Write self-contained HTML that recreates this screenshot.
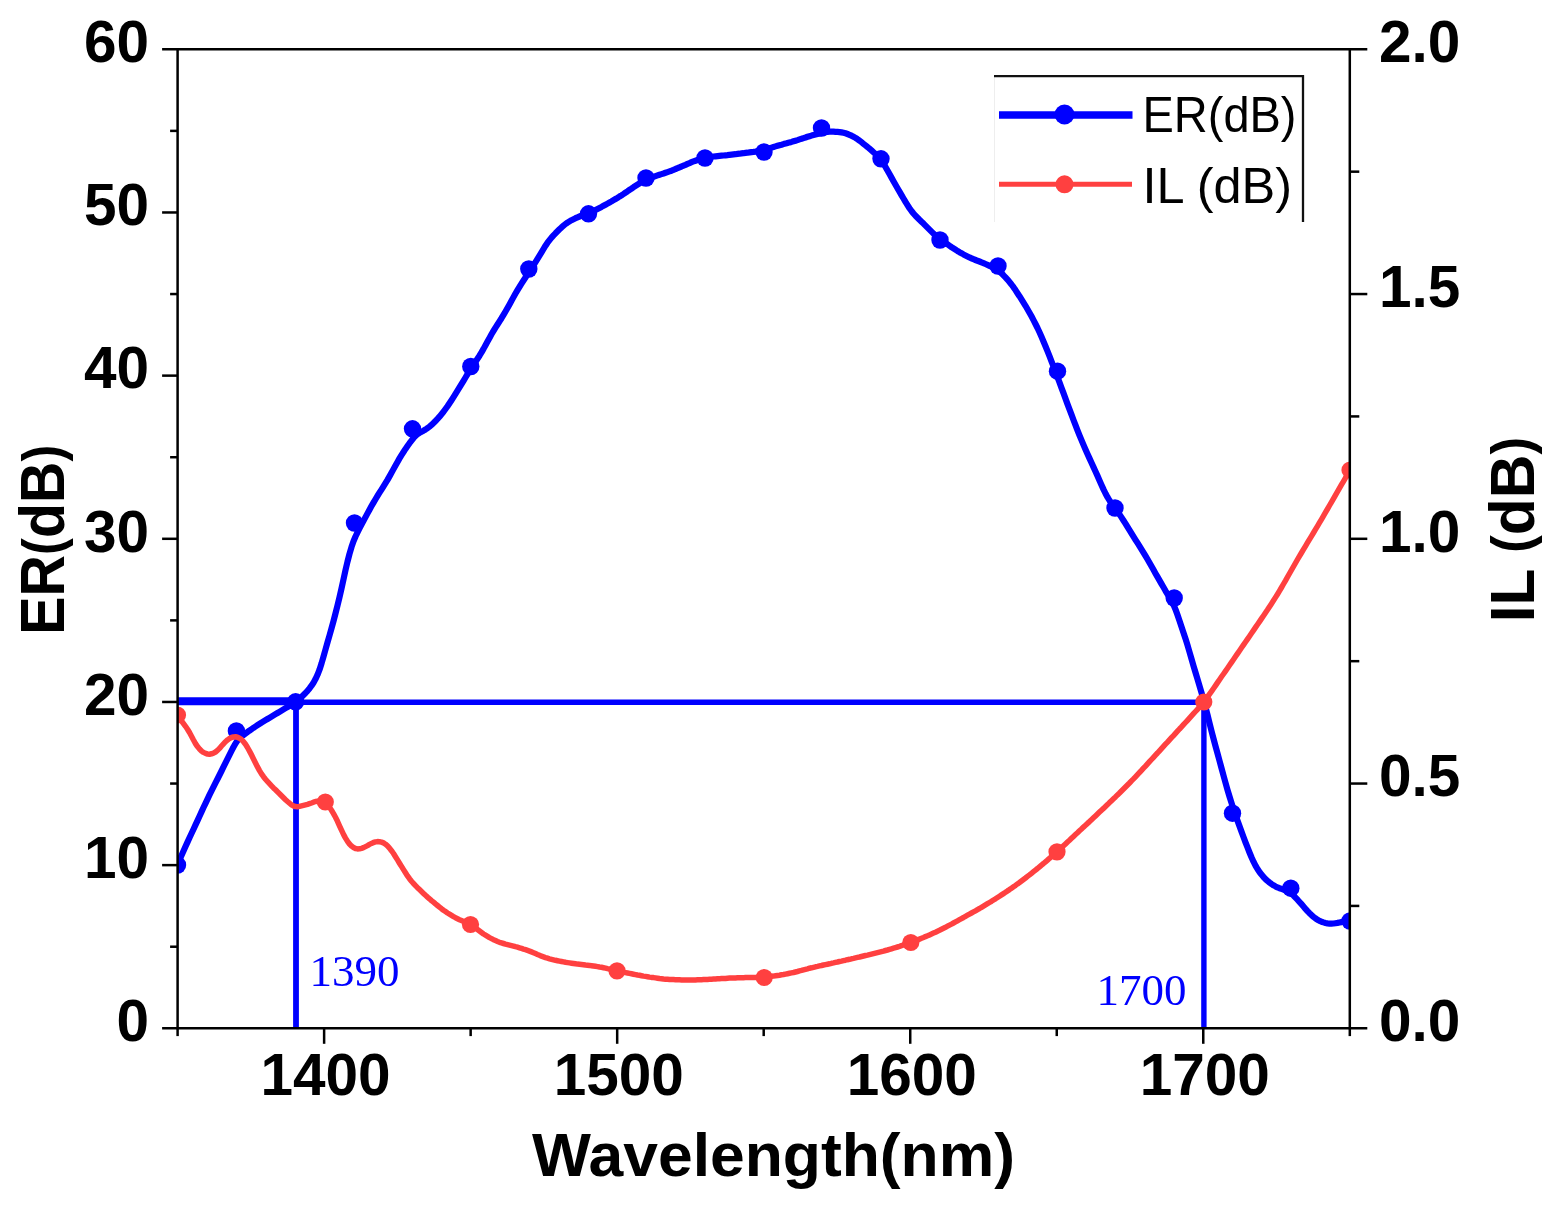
<!DOCTYPE html>
<html lang="en"><head><meta charset="utf-8"><title>ER and IL versus Wavelength</title>
<style>
html,body{margin:0;padding:0;background:#fff;}
body{width:1566px;height:1210px;overflow:hidden;}
svg{display:block;filter:blur(0.55px);}
text{font-family:"Liberation Sans",sans-serif;fill:#000;}
.b{font-weight:bold;}
.ann{font-family:"Liberation Serif",serif;fill:#0000ff;}
</style></head><body>
<svg width="1566" height="1210" viewBox="0 0 1566 1210">
<rect width="1566" height="1210" fill="#fff"/>
<defs><clipPath id="plot"><rect x="177.6" y="29.299999999999997" width="1172.2" height="999.0"/></clipPath></defs>
<g clip-path="url(#plot)">
<line x1="177.6" y1="702.3" x2="1203.3" y2="702.3" stroke="#0000ff" stroke-width="5.4"/>
<line x1="177.6" y1="701.2" x2="294.8" y2="701.2" stroke="#0000ff" stroke-width="8"/>
<line x1="296.0" y1="702" x2="296.0" y2="1028.3" stroke="#0000ff" stroke-width="5.8"/>
<line x1="1203.9" y1="702" x2="1203.9" y2="1028.3" stroke="#0000ff" stroke-width="5.4"/>
<path d="M177.5,865.0 L179.5,859.8 L181.5,855.5 L183.5,851.0 L185.5,846.5 L187.5,842.1 L189.5,837.7 L191.5,833.5 L193.5,829.2 L195.5,824.9 L197.5,820.6 L199.5,816.2 L201.5,811.9 L203.5,807.5 L205.5,803.3 L207.5,799.1 L209.5,794.9 L211.5,790.9 L213.5,786.9 L215.5,782.9 L217.5,779.0 L219.5,775.0 L221.5,771.0 L223.5,766.9 L225.5,762.9 L227.5,758.9 L229.5,754.9 L231.5,750.9 L233.5,747.0 L235.5,743.4 L237.5,740.5 L239.5,738.4 L241.5,736.6 L243.5,735.1 L245.5,733.6 L247.5,732.1 L249.5,730.6 L251.5,729.2 L253.5,727.8 L255.5,726.5 L257.5,725.2 L259.5,723.9 L261.5,722.6 L263.5,721.4 L265.5,720.2 L267.5,719.0 L269.5,717.8 L271.5,716.6 L273.5,715.4 L275.5,714.2 L277.5,713.0 L279.5,711.8 L281.5,710.6 L283.5,709.4 L285.5,708.2 L287.5,707.0 L289.5,705.8 L291.5,704.6 L293.5,703.3 L295.5,701.9 L297.5,700.4 L299.5,698.7 L301.5,697.0 L303.5,695.0 L305.5,693.0 L307.5,690.8 L309.5,688.4 L311.5,685.7 L313.5,682.7 L315.5,679.1 L317.5,674.8 L319.5,669.7 L321.5,663.5 L323.5,656.6 L325.5,649.5 L327.5,642.4 L329.5,635.5 L331.5,628.4 L333.5,621.1 L335.5,613.4 L337.5,605.5 L339.5,597.2 L341.5,588.5 L343.5,579.4 L345.5,570.2 L347.5,561.6 L349.5,553.9 L351.5,547.1 L353.5,541.3 L355.5,536.5 L357.5,532.3 L359.5,528.4 L361.5,524.6 L363.5,520.8 L365.5,517.1 L367.5,513.4 L369.5,509.7 L371.5,506.1 L373.5,502.6 L375.5,499.2 L377.5,495.9 L379.5,492.7 L381.5,489.6 L383.5,486.4 L385.5,483.2 L387.5,479.9 L389.5,476.4 L391.5,472.8 L393.5,469.1 L395.5,465.5 L397.5,461.9 L399.5,458.4 L401.5,455.1 L403.5,452.0 L405.5,448.9 L407.5,446.0 L409.5,443.2 L411.5,440.6 L413.5,438.0 L415.5,435.8 L417.5,434.1 L419.5,432.8 L421.5,431.7 L423.5,430.7 L425.5,429.5 L427.5,428.2 L429.5,426.6 L431.5,424.9 L433.5,423.0 L435.5,421.0 L437.5,418.9 L439.5,416.7 L441.5,414.3 L443.5,411.8 L445.5,409.0 L447.5,406.2 L449.5,403.2 L451.5,400.2 L453.5,397.1 L455.5,393.9 L457.5,390.7 L459.5,387.4 L461.5,384.1 L463.5,380.8 L465.5,377.5 L467.5,374.1 L469.5,370.9 L471.5,367.8 L473.5,364.8 L475.5,361.8 L477.5,358.8 L479.5,355.7 L481.5,352.4 L483.5,348.9 L485.5,345.2 L487.5,341.5 L489.5,337.9 L491.5,334.3 L493.5,330.9 L495.5,327.6 L497.5,324.5 L499.5,321.3 L501.5,318.2 L503.5,314.9 L505.5,311.5 L507.5,308.0 L509.5,304.4 L511.5,300.8 L513.5,297.1 L515.5,293.5 L517.5,290.1 L519.5,286.8 L521.5,283.6 L523.5,280.5 L525.5,277.5 L527.5,274.4 L529.5,271.3 L531.5,268.3 L533.5,265.2 L535.5,262.1 L537.5,258.9 L539.5,255.7 L541.5,252.4 L543.5,249.0 L545.5,245.7 L547.5,242.7 L549.5,240.1 L551.5,237.6 L553.5,235.4 L555.5,233.3 L557.5,231.3 L559.5,229.3 L561.5,227.4 L563.5,225.7 L565.5,224.0 L567.5,222.6 L569.5,221.4 L571.5,220.2 L573.5,219.2 L575.5,218.2 L577.5,217.3 L579.5,216.5 L581.5,215.7 L583.5,214.9 L585.5,214.2 L587.5,213.4 L589.5,212.7 L591.5,211.8 L593.5,210.9 L595.5,209.9 L597.5,208.9 L599.5,207.9 L601.5,206.9 L603.5,205.8 L605.5,204.7 L607.5,203.6 L609.5,202.5 L611.5,201.4 L613.5,200.2 L615.5,199.0 L617.5,197.8 L619.5,196.5 L621.5,195.3 L623.5,194.0 L625.5,192.6 L627.5,191.3 L629.5,189.9 L631.5,188.6 L633.5,187.2 L635.5,185.9 L637.5,184.6 L639.5,183.3 L641.5,182.0 L643.5,180.9 L645.5,179.9 L647.5,179.0 L649.5,178.2 L651.5,177.5 L653.5,176.8 L655.5,176.1 L657.5,175.4 L659.5,174.7 L661.5,174.1 L663.5,173.5 L665.5,172.8 L667.5,172.1 L669.5,171.4 L671.5,170.7 L673.5,169.9 L675.5,169.0 L677.5,168.2 L679.5,167.3 L681.5,166.5 L683.5,165.6 L685.5,164.8 L687.5,163.9 L689.5,163.1 L691.5,162.2 L693.5,161.4 L695.5,160.7 L697.5,160.0 L699.5,159.4 L701.5,158.9 L703.5,158.4 L705.5,157.9 L707.5,157.5 L709.5,157.1 L711.5,156.8 L713.5,156.5 L715.5,156.3 L717.5,156.1 L719.5,155.9 L721.5,155.7 L723.5,155.5 L725.5,155.3 L727.5,155.1 L729.5,154.8 L731.5,154.6 L733.5,154.4 L735.5,154.2 L737.5,153.9 L739.5,153.7 L741.5,153.4 L743.5,153.2 L745.5,152.9 L747.5,152.7 L749.5,152.4 L751.5,152.1 L753.5,151.9 L755.5,151.6 L757.5,151.2 L759.5,150.9 L761.5,150.4 L763.5,149.9 L765.5,149.4 L767.5,148.8 L769.5,148.2 L771.5,147.6 L773.5,147.0 L775.5,146.4 L777.5,145.8 L779.5,145.2 L781.5,144.7 L783.5,144.1 L785.5,143.6 L787.5,143.0 L789.5,142.4 L791.5,141.9 L793.5,141.3 L795.5,140.7 L797.5,140.1 L799.5,139.4 L801.5,138.8 L803.5,138.1 L805.5,137.5 L807.5,136.8 L809.5,136.2 L811.5,135.6 L813.5,135.1 L815.5,134.6 L817.5,134.1 L819.5,133.6 L821.5,133.1 L823.5,132.6 L825.5,132.2 L827.5,131.8 L829.5,131.6 L831.5,131.6 L833.5,131.6 L835.5,131.8 L837.5,131.9 L839.5,132.1 L841.5,132.4 L843.5,132.8 L845.5,133.3 L847.5,134.0 L849.5,134.8 L851.5,135.7 L853.5,136.8 L855.5,137.9 L857.5,139.2 L859.5,140.6 L861.5,142.2 L863.5,143.8 L865.5,145.4 L867.5,147.0 L869.5,148.7 L871.5,150.4 L873.5,152.2 L875.5,154.0 L877.5,156.0 L879.5,158.1 L881.5,160.6 L883.5,163.6 L885.5,166.9 L887.5,170.5 L889.5,174.1 L891.5,177.6 L893.5,181.2 L895.5,184.7 L897.5,188.2 L899.5,191.6 L901.5,195.1 L903.5,198.5 L905.5,201.9 L907.5,205.1 L909.5,208.2 L911.5,211.0 L913.5,213.5 L915.5,215.8 L917.5,217.8 L919.5,219.8 L921.5,221.7 L923.5,223.6 L925.5,225.6 L927.5,227.6 L929.5,229.6 L931.5,231.6 L933.5,233.6 L935.5,235.3 L937.5,237.0 L939.5,238.5 L941.5,240.0 L943.5,241.4 L945.5,242.9 L947.5,244.3 L949.5,245.7 L951.5,247.1 L953.5,248.4 L955.5,249.7 L957.5,251.0 L959.5,252.2 L961.5,253.3 L963.5,254.4 L965.5,255.4 L967.5,256.4 L969.5,257.4 L971.5,258.3 L973.5,259.2 L975.5,260.0 L977.5,260.8 L979.5,261.5 L981.5,262.3 L983.5,263.1 L985.5,264.0 L987.5,264.9 L989.5,265.8 L991.5,266.7 L993.5,267.7 L995.5,268.8 L997.5,270.1 L999.5,271.6 L1001.5,273.3 L1003.5,275.3 L1005.5,277.4 L1007.5,279.6 L1009.5,282.0 L1011.5,284.5 L1013.5,287.2 L1015.5,290.1 L1017.5,293.2 L1019.5,296.2 L1021.5,299.4 L1023.5,302.6 L1025.5,305.8 L1027.5,309.2 L1029.5,312.7 L1031.5,316.3 L1033.5,320.1 L1035.5,324.0 L1037.5,328.0 L1039.5,332.3 L1041.5,336.8 L1043.5,341.5 L1045.5,346.3 L1047.5,351.2 L1049.5,356.2 L1051.5,361.3 L1053.5,366.5 L1055.5,371.8 L1057.5,377.1 L1059.5,382.4 L1061.5,387.8 L1063.5,393.2 L1065.5,398.6 L1067.5,404.1 L1069.5,409.4 L1071.5,414.7 L1073.5,420.0 L1075.5,425.2 L1077.5,430.3 L1079.5,435.3 L1081.5,440.1 L1083.5,444.9 L1085.5,449.5 L1087.5,454.0 L1089.5,458.4 L1091.5,462.8 L1093.5,467.1 L1095.5,471.5 L1097.5,475.9 L1099.5,480.5 L1101.5,485.0 L1103.5,489.4 L1105.5,493.5 L1107.5,497.2 L1109.5,500.5 L1111.5,503.5 L1113.5,506.2 L1115.5,508.9 L1117.5,511.6 L1119.5,514.4 L1121.5,517.4 L1123.5,520.5 L1125.5,523.6 L1127.5,526.9 L1129.5,530.1 L1131.5,533.4 L1133.5,536.6 L1135.5,539.8 L1137.5,542.9 L1139.5,546.1 L1141.5,549.3 L1143.5,552.6 L1145.5,555.9 L1147.5,559.3 L1149.5,562.8 L1151.5,566.3 L1153.5,569.8 L1155.5,573.4 L1157.5,576.9 L1159.5,580.4 L1161.5,583.9 L1163.5,587.3 L1165.5,590.8 L1167.5,594.1 L1169.5,597.4 L1171.5,600.8 L1173.5,604.8 L1175.5,609.4 L1177.5,614.9 L1179.5,620.8 L1181.5,626.8 L1183.5,632.7 L1185.5,638.7 L1187.5,645.2 L1189.5,652.0 L1191.5,658.9 L1193.5,665.8 L1195.5,672.5 L1197.5,679.2 L1199.5,685.9 L1201.5,692.7 L1203.5,699.8 L1205.5,707.2 L1207.5,714.9 L1209.5,722.9 L1211.5,730.9 L1213.5,738.6 L1215.5,746.1 L1217.5,753.4 L1219.5,760.7 L1221.5,768.1 L1223.5,775.5 L1225.5,782.8 L1227.5,789.8 L1229.5,796.5 L1231.5,802.9 L1233.5,809.1 L1235.5,814.9 L1237.5,820.6 L1239.5,826.1 L1241.5,831.6 L1243.5,837.0 L1245.5,842.3 L1247.5,847.4 L1249.5,852.5 L1251.5,857.3 L1253.5,861.7 L1255.5,865.6 L1257.5,869.0 L1259.5,872.0 L1261.5,874.6 L1263.5,877.0 L1265.5,879.1 L1267.5,880.9 L1269.5,882.5 L1271.5,884.0 L1273.5,885.3 L1275.5,886.4 L1277.5,887.4 L1279.5,888.2 L1281.5,888.9 L1283.5,889.6 L1285.5,890.4 L1287.5,891.3 L1289.5,892.4 L1291.5,893.8 L1293.5,895.5 L1295.5,897.6 L1297.5,899.7 L1299.5,902.0 L1301.5,904.2 L1303.5,906.5 L1305.5,908.9 L1307.5,911.1 L1309.5,913.2 L1311.5,915.1 L1313.5,916.8 L1315.5,918.4 L1317.5,919.8 L1319.5,920.9 L1321.5,921.7 L1323.5,922.4 L1325.5,923.0 L1327.5,923.4 L1329.5,923.6 L1331.5,923.6 L1333.5,923.5 L1335.5,923.2 L1337.5,922.9 L1339.5,922.5 L1341.5,922.1 L1343.5,921.5 L1345.5,920.8 L1347.5,920.0 L1349.5,919.3 L1350.0,918.8" fill="none" stroke="#0000ff" stroke-width="6.2" stroke-linejoin="round"/>
<circle cx="177.5" cy="865.0" r="8.7" fill="#0000ff"/>
<circle cx="236.4" cy="731.0" r="8.7" fill="#0000ff"/>
<circle cx="295.6" cy="701.8" r="8.7" fill="#0000ff"/>
<circle cx="354.5" cy="523.0" r="8.7" fill="#0000ff"/>
<circle cx="412.5" cy="428.8" r="8.7" fill="#0000ff"/>
<circle cx="470.8" cy="366.5" r="8.7" fill="#0000ff"/>
<circle cx="528.8" cy="269.0" r="8.7" fill="#0000ff"/>
<circle cx="588.5" cy="213.8" r="8.7" fill="#0000ff"/>
<circle cx="646.0" cy="178.0" r="8.7" fill="#0000ff"/>
<circle cx="705.0" cy="158.0" r="8.7" fill="#0000ff"/>
<circle cx="764.0" cy="152.0" r="8.7" fill="#0000ff"/>
<circle cx="821.5" cy="128.0" r="8.7" fill="#0000ff"/>
<circle cx="881.0" cy="158.8" r="8.7" fill="#0000ff"/>
<circle cx="940.0" cy="240.0" r="8.7" fill="#0000ff"/>
<circle cx="998.0" cy="266.0" r="8.7" fill="#0000ff"/>
<circle cx="1057.5" cy="371.2" r="8.7" fill="#0000ff"/>
<circle cx="1115.0" cy="508.0" r="8.7" fill="#0000ff"/>
<circle cx="1174.2" cy="598.0" r="8.7" fill="#0000ff"/>
<circle cx="1232.5" cy="813.2" r="8.7" fill="#0000ff"/>
<circle cx="1290.8" cy="888.2" r="8.7" fill="#0000ff"/>
<circle cx="1350.0" cy="921.0" r="8.7" fill="#0000ff"/>
<path d="M177.5,715.0 L179.5,718.2 L181.5,720.8 L183.5,723.6 L185.5,726.3 L187.5,729.2 L189.5,732.5 L191.5,736.2 L193.5,740.0 L195.5,743.6 L197.5,746.6 L199.5,749.0 L201.5,751.0 L203.5,752.4 L205.5,753.4 L207.5,754.0 L209.5,754.2 L211.5,753.8 L213.5,753.1 L215.5,752.0 L217.5,750.4 L219.5,748.4 L221.5,746.0 L223.5,743.8 L225.5,741.7 L227.5,739.9 L229.5,738.5 L231.5,737.5 L233.5,736.9 L235.5,736.8 L237.5,737.2 L239.5,738.2 L241.5,739.6 L243.5,741.7 L245.5,744.3 L247.5,747.5 L249.5,751.1 L251.5,754.9 L253.5,758.9 L255.5,762.9 L257.5,766.9 L259.5,770.6 L261.5,773.9 L263.5,776.7 L265.5,779.2 L267.5,781.5 L269.5,783.7 L271.5,785.8 L273.5,787.9 L275.5,789.8 L277.5,791.8 L279.5,793.7 L281.5,795.7 L283.5,797.7 L285.5,799.7 L287.5,801.5 L289.5,803.2 L291.5,804.8 L293.5,806.0 L295.5,806.6 L297.5,806.7 L299.5,806.4 L301.5,805.9 L303.5,805.4 L305.5,804.9 L307.5,804.4 L309.5,803.7 L311.5,803.0 L313.5,802.2 L315.5,801.5 L317.5,801.2 L319.5,801.2 L321.5,801.4 L323.5,801.9 L325.5,802.9 L327.5,804.7 L329.5,807.3 L331.5,810.3 L333.5,813.6 L335.5,817.3 L337.5,821.3 L339.5,825.8 L341.5,830.2 L343.5,834.4 L345.5,838.1 L347.5,841.3 L349.5,844.0 L351.5,846.1 L353.5,847.5 L355.5,848.5 L357.5,848.9 L359.5,848.8 L361.5,848.3 L363.5,847.6 L365.5,846.6 L367.5,845.6 L369.5,844.4 L371.5,843.4 L373.5,842.5 L375.5,841.9 L377.5,841.6 L379.5,841.7 L381.5,842.1 L383.5,842.9 L385.5,844.2 L387.5,845.9 L389.5,848.1 L391.5,850.7 L393.5,853.5 L395.5,856.7 L397.5,859.9 L399.5,863.2 L401.5,866.4 L403.5,869.6 L405.5,872.8 L407.5,875.9 L409.5,878.7 L411.5,881.2 L413.5,883.5 L415.5,885.6 L417.5,887.7 L419.5,889.6 L421.5,891.5 L423.5,893.4 L425.5,895.3 L427.5,897.1 L429.5,898.8 L431.5,900.6 L433.5,902.2 L435.5,903.9 L437.5,905.5 L439.5,907.1 L441.5,908.7 L443.5,910.2 L445.5,911.6 L447.5,913.0 L449.5,914.2 L451.5,915.4 L453.5,916.6 L455.5,917.7 L457.5,918.7 L459.5,919.7 L461.5,920.6 L463.5,921.5 L465.5,922.3 L467.5,923.1 L469.5,924.1 L471.5,925.2 L473.5,926.5 L475.5,927.9 L477.5,929.5 L479.5,931.0 L481.5,932.5 L483.5,934.0 L485.5,935.2 L487.5,936.4 L489.5,937.6 L491.5,938.6 L493.5,939.7 L495.5,940.6 L497.5,941.5 L499.5,942.3 L501.5,942.9 L503.5,943.5 L505.5,944.1 L507.5,944.6 L509.5,945.1 L511.5,945.6 L513.5,946.1 L515.5,946.7 L517.5,947.2 L519.5,947.8 L521.5,948.4 L523.5,949.1 L525.5,949.7 L527.5,950.4 L529.5,951.1 L531.5,951.9 L533.5,952.7 L535.5,953.6 L537.5,954.5 L539.5,955.3 L541.5,956.2 L543.5,956.9 L545.5,957.6 L547.5,958.2 L549.5,958.8 L551.5,959.3 L553.5,959.8 L555.5,960.3 L557.5,960.7 L559.5,961.1 L561.5,961.5 L563.5,961.9 L565.5,962.3 L567.5,962.6 L569.5,962.9 L571.5,963.2 L573.5,963.5 L575.5,963.8 L577.5,964.1 L579.5,964.3 L581.5,964.5 L583.5,964.7 L585.5,965.0 L587.5,965.2 L589.5,965.4 L591.5,965.7 L593.5,966.0 L595.5,966.3 L597.5,966.6 L599.5,967.0 L601.5,967.3 L603.5,967.7 L605.5,968.1 L607.5,968.6 L609.5,969.0 L611.5,969.5 L613.5,970.0 L615.5,970.4 L617.5,970.9 L619.5,971.3 L621.5,971.7 L623.5,972.2 L625.5,972.6 L627.5,973.0 L629.5,973.4 L631.5,973.8 L633.5,974.2 L635.5,974.6 L637.5,975.0 L639.5,975.3 L641.5,975.7 L643.5,976.1 L645.5,976.4 L647.5,976.7 L649.5,977.1 L651.5,977.4 L653.5,977.6 L655.5,977.9 L657.5,978.2 L659.5,978.5 L661.5,978.7 L663.5,979.0 L665.5,979.2 L667.5,979.3 L669.5,979.5 L671.5,979.6 L673.5,979.6 L675.5,979.7 L677.5,979.8 L679.5,979.8 L681.5,979.9 L683.5,979.9 L685.5,980.0 L687.5,980.0 L689.5,980.0 L691.5,980.0 L693.5,979.9 L695.5,979.9 L697.5,979.8 L699.5,979.8 L701.5,979.7 L703.5,979.6 L705.5,979.5 L707.5,979.4 L709.5,979.3 L711.5,979.2 L713.5,979.1 L715.5,979.0 L717.5,978.8 L719.5,978.7 L721.5,978.6 L723.5,978.5 L725.5,978.4 L727.5,978.2 L729.5,978.1 L731.5,978.0 L733.5,978.0 L735.5,977.9 L737.5,977.8 L739.5,977.8 L741.5,977.7 L743.5,977.7 L745.5,977.6 L747.5,977.6 L749.5,977.5 L751.5,977.5 L753.5,977.4 L755.5,977.4 L757.5,977.3 L759.5,977.2 L761.5,977.1 L763.5,977.0 L765.5,976.9 L767.5,976.7 L769.5,976.6 L771.5,976.3 L773.5,976.1 L775.5,975.8 L777.5,975.5 L779.5,975.2 L781.5,974.8 L783.5,974.5 L785.5,974.1 L787.5,973.7 L789.5,973.3 L791.5,972.9 L793.5,972.5 L795.5,972.0 L797.5,971.5 L799.5,970.9 L801.5,970.4 L803.5,969.8 L805.5,969.3 L807.5,968.8 L809.5,968.2 L811.5,967.8 L813.5,967.3 L815.5,966.8 L817.5,966.4 L819.5,965.9 L821.5,965.5 L823.5,965.0 L825.5,964.6 L827.5,964.2 L829.5,963.8 L831.5,963.3 L833.5,962.9 L835.5,962.4 L837.5,962.0 L839.5,961.5 L841.5,961.1 L843.5,960.6 L845.5,960.2 L847.5,959.7 L849.5,959.3 L851.5,958.8 L853.5,958.4 L855.5,957.9 L857.5,957.4 L859.5,957.0 L861.5,956.5 L863.5,956.0 L865.5,955.5 L867.5,955.1 L869.5,954.6 L871.5,954.1 L873.5,953.6 L875.5,953.1 L877.5,952.6 L879.5,952.1 L881.5,951.6 L883.5,951.1 L885.5,950.5 L887.5,950.0 L889.5,949.4 L891.5,948.8 L893.5,948.2 L895.5,947.6 L897.5,947.0 L899.5,946.4 L901.5,945.7 L903.5,945.0 L905.5,944.4 L907.5,943.7 L909.5,942.9 L911.5,942.2 L913.5,941.5 L915.5,940.7 L917.5,939.9 L919.5,939.1 L921.5,938.3 L923.5,937.5 L925.5,936.6 L927.5,935.8 L929.5,934.9 L931.5,934.0 L933.5,933.1 L935.5,932.2 L937.5,931.2 L939.5,930.3 L941.5,929.3 L943.5,928.3 L945.5,927.3 L947.5,926.2 L949.5,925.1 L951.5,924.1 L953.5,923.0 L955.5,921.9 L957.5,920.8 L959.5,919.7 L961.5,918.6 L963.5,917.5 L965.5,916.3 L967.5,915.2 L969.5,914.1 L971.5,913.0 L973.5,911.9 L975.5,910.8 L977.5,909.6 L979.5,908.5 L981.5,907.3 L983.5,906.1 L985.5,904.9 L987.5,903.7 L989.5,902.5 L991.5,901.3 L993.5,900.0 L995.5,898.8 L997.5,897.5 L999.5,896.2 L1001.5,894.9 L1003.5,893.6 L1005.5,892.3 L1007.5,890.9 L1009.5,889.6 L1011.5,888.2 L1013.5,886.8 L1015.5,885.4 L1017.5,883.9 L1019.5,882.5 L1021.5,881.0 L1023.5,879.5 L1025.5,878.0 L1027.5,876.4 L1029.5,874.9 L1031.5,873.3 L1033.5,871.7 L1035.5,870.1 L1037.5,868.5 L1039.5,866.8 L1041.5,865.1 L1043.5,863.5 L1045.5,861.8 L1047.5,860.1 L1049.5,858.3 L1051.5,856.6 L1053.5,854.8 L1055.5,853.1 L1057.5,851.3 L1059.5,849.5 L1061.5,847.7 L1063.5,845.8 L1065.5,843.9 L1067.5,842.0 L1069.5,840.2 L1071.5,838.3 L1073.5,836.4 L1075.5,834.5 L1077.5,832.7 L1079.5,830.8 L1081.5,829.0 L1083.5,827.1 L1085.5,825.3 L1087.5,823.4 L1089.5,821.6 L1091.5,819.7 L1093.5,817.8 L1095.5,815.9 L1097.5,814.0 L1099.5,812.1 L1101.5,810.2 L1103.5,808.4 L1105.5,806.5 L1107.5,804.6 L1109.5,802.6 L1111.5,800.7 L1113.5,798.8 L1115.5,796.9 L1117.5,794.9 L1119.5,793.0 L1121.5,791.0 L1123.5,789.0 L1125.5,787.0 L1127.5,785.0 L1129.5,783.0 L1131.5,780.9 L1133.5,778.9 L1135.5,776.8 L1137.5,774.7 L1139.5,772.5 L1141.5,770.4 L1143.5,768.2 L1145.5,766.1 L1147.5,763.9 L1149.5,761.7 L1151.5,759.5 L1153.5,757.3 L1155.5,755.1 L1157.5,753.0 L1159.5,750.8 L1161.5,748.6 L1163.5,746.4 L1165.5,744.2 L1167.5,742.1 L1169.5,739.9 L1171.5,737.7 L1173.5,735.6 L1175.5,733.4 L1177.5,731.2 L1179.5,729.0 L1181.5,726.9 L1183.5,724.7 L1185.5,722.5 L1187.5,720.3 L1189.5,718.1 L1191.5,715.9 L1193.5,713.7 L1195.5,711.5 L1197.5,709.3 L1199.5,707.0 L1201.5,704.7 L1203.5,702.2 L1205.5,699.7 L1207.5,697.0 L1209.5,694.2 L1211.5,691.4 L1213.5,688.5 L1215.5,685.6 L1217.5,682.6 L1219.5,679.7 L1221.5,676.8 L1223.5,674.0 L1225.5,671.1 L1227.5,668.2 L1229.5,665.3 L1231.5,662.4 L1233.5,659.5 L1235.5,656.5 L1237.5,653.6 L1239.5,650.7 L1241.5,647.8 L1243.5,644.9 L1245.5,642.0 L1247.5,639.1 L1249.5,636.2 L1251.5,633.3 L1253.5,630.4 L1255.5,627.4 L1257.5,624.5 L1259.5,621.6 L1261.5,618.6 L1263.5,615.7 L1265.5,612.7 L1267.5,609.8 L1269.5,606.7 L1271.5,603.7 L1273.5,600.6 L1275.5,597.4 L1277.5,594.2 L1279.5,590.9 L1281.5,587.5 L1283.5,584.0 L1285.5,580.6 L1287.5,577.0 L1289.5,573.5 L1291.5,570.0 L1293.5,566.5 L1295.5,563.0 L1297.5,559.5 L1299.5,556.1 L1301.5,552.8 L1303.5,549.4 L1305.5,546.1 L1307.5,542.7 L1309.5,539.4 L1311.5,536.1 L1313.5,532.8 L1315.5,529.4 L1317.5,526.1 L1319.5,522.7 L1321.5,519.3 L1323.5,515.9 L1325.5,512.4 L1327.5,509.0 L1329.5,505.5 L1331.5,502.1 L1333.5,498.6 L1335.5,495.1 L1337.5,491.7 L1339.5,488.2 L1341.5,484.7 L1343.5,481.3 L1345.5,477.8 L1347.5,474.6 L1349.5,472.0 L1350.0,470.0" fill="none" stroke="#ff4040" stroke-width="5.5" stroke-linejoin="round"/>
<circle cx="177.5" cy="715.0" r="8.6" fill="#ff4040"/>
<circle cx="325.3" cy="802.0" r="8.6" fill="#ff4040"/>
<circle cx="470.5" cy="924.5" r="8.6" fill="#ff4040"/>
<circle cx="617.0" cy="970.8" r="8.6" fill="#ff4040"/>
<circle cx="764.2" cy="977.5" r="8.6" fill="#ff4040"/>
<circle cx="910.8" cy="942.5" r="8.6" fill="#ff4040"/>
<circle cx="1057.0" cy="851.8" r="8.6" fill="#ff4040"/>
<circle cx="1203.8" cy="702.0" r="8.6" fill="#ff4040"/>
<circle cx="1350.0" cy="470.0" r="8.6" fill="#ff4040"/>
</g>
<g stroke="#000" stroke-width="2.5" fill="none" stroke-linecap="butt">
<line x1="177.6" y1="48.3" x2="177.6" y2="1029.3"/>
<line x1="1349.8" y1="48.3" x2="1349.8" y2="1029.3"/>
<line x1="162.1" y1="49.3" x2="1367.3" y2="49.3"/>
<line x1="162.1" y1="1028.3" x2="1367.3" y2="1028.3"/>
<line x1="170.1" y1="946.72" x2="177.6" y2="946.72"/>
<line x1="162.1" y1="865.13" x2="177.6" y2="865.13"/>
<line x1="170.1" y1="783.55" x2="177.6" y2="783.55"/>
<line x1="162.1" y1="701.97" x2="177.6" y2="701.97"/>
<line x1="170.1" y1="620.38" x2="177.6" y2="620.38"/>
<line x1="162.1" y1="538.80" x2="177.6" y2="538.80"/>
<line x1="170.1" y1="457.22" x2="177.6" y2="457.22"/>
<line x1="162.1" y1="375.63" x2="177.6" y2="375.63"/>
<line x1="170.1" y1="294.05" x2="177.6" y2="294.05"/>
<line x1="162.1" y1="212.47" x2="177.6" y2="212.47"/>
<line x1="170.1" y1="130.88" x2="177.6" y2="130.88"/>
<line x1="1349.8" y1="905.92" x2="1359.3" y2="905.92"/>
<line x1="1349.8" y1="783.55" x2="1367.3" y2="783.55"/>
<line x1="1349.8" y1="661.17" x2="1359.3" y2="661.17"/>
<line x1="1349.8" y1="538.80" x2="1367.3" y2="538.80"/>
<line x1="1349.8" y1="416.42" x2="1359.3" y2="416.42"/>
<line x1="1349.8" y1="294.05" x2="1367.3" y2="294.05"/>
<line x1="1349.8" y1="171.67" x2="1359.3" y2="171.67"/>
<line x1="177.60" y1="1028.3" x2="177.60" y2="1036.1"/>
<line x1="324.12" y1="1028.3" x2="324.12" y2="1043.8"/>
<line x1="470.65" y1="1028.3" x2="470.65" y2="1036.1"/>
<line x1="617.18" y1="1028.3" x2="617.18" y2="1043.8"/>
<line x1="763.70" y1="1028.3" x2="763.70" y2="1036.1"/>
<line x1="910.23" y1="1028.3" x2="910.23" y2="1043.8"/>
<line x1="1056.75" y1="1028.3" x2="1056.75" y2="1036.1"/>
<line x1="1203.27" y1="1028.3" x2="1203.27" y2="1043.8"/>
<line x1="1349.80" y1="1028.3" x2="1349.80" y2="1036.1"/>
</g>
<text class="b" x="149" y="1041.1" font-size="58.5" text-anchor="end">0</text>
<text class="b" x="149" y="877.9" font-size="58.5" text-anchor="end">10</text>
<text class="b" x="149" y="714.8" font-size="58.5" text-anchor="end">20</text>
<text class="b" x="149" y="551.6" font-size="58.5" text-anchor="end">30</text>
<text class="b" x="149" y="388.4" font-size="58.5" text-anchor="end">40</text>
<text class="b" x="149" y="225.3" font-size="58.5" text-anchor="end">50</text>
<text class="b" x="149" y="62.1" font-size="58.5" text-anchor="end">60</text>
<text class="b" x="1379" y="1041.1" font-size="58.5">0.0</text>
<text class="b" x="1379" y="796.3" font-size="58.5">0.5</text>
<text class="b" x="1379" y="551.6" font-size="58.5">1.0</text>
<text class="b" x="1379" y="306.8" font-size="58.5">1.5</text>
<text class="b" x="1379" y="62.1" font-size="58.5">2.0</text>
<text class="b" x="325.6" y="1095.3" font-size="58.5" text-anchor="middle">1400</text>
<text class="b" x="618.7" y="1095.3" font-size="58.5" text-anchor="middle">1500</text>
<text class="b" x="911.7" y="1095.3" font-size="58.5" text-anchor="middle">1600</text>
<text class="b" x="1204.8" y="1095.3" font-size="58.5" text-anchor="middle">1700</text>
<text class="b" x="532" y="1175.8" font-size="62" textLength="483" lengthAdjust="spacingAndGlyphs">Wavelength(nm)</text>
<text class="b" transform="translate(64.3,634.7) rotate(-90)" font-size="63.5" textLength="190" lengthAdjust="spacingAndGlyphs">ER<tspan font-size="56" dy="-3.7">(</tspan><tspan dy="3.7">dB</tspan><tspan font-size="56" dy="-3.7">)</tspan></text>
<text class="b" transform="translate(1534,622.3) rotate(-90)" font-size="63.5" textLength="185.5" lengthAdjust="spacingAndGlyphs">IL <tspan font-size="56" dy="-3.7">(</tspan><tspan dy="3.7">dB</tspan><tspan font-size="56" dy="-3.7">)</tspan></text>
<text class="ann" x="309.5" y="986.3" font-size="45">1390</text>
<text class="ann" x="1096.5" y="1005.3" font-size="45">1700</text>
<g>
<rect x="994" y="76" width="309" height="146" fill="#fff"/>
<line x1="994.5" y1="76" x2="994.5" y2="222" stroke="#eeeeee" stroke-width="1"/>
<line x1="994" y1="76.2" x2="1304" y2="76.2" stroke="#111" stroke-width="2.3"/>
<line x1="1303" y1="75.1" x2="1303" y2="222" stroke="#111" stroke-width="2.3"/>
<line x1="999" y1="115" x2="1132.5" y2="115" stroke="#0000ff" stroke-width="7.5"/>
<circle cx="1064.5" cy="114.5" r="10" fill="#0000ff"/>
<line x1="999" y1="184.3" x2="1132" y2="184.3" stroke="#ff4040" stroke-width="5"/>
<circle cx="1064.5" cy="184.3" r="9" fill="#ff4040"/>
<text x="1142.5" y="132.3" font-size="50" textLength="154" lengthAdjust="spacingAndGlyphs">ER(dB)</text>
<text x="1142.5" y="202.6" font-size="50" textLength="149.5" lengthAdjust="spacingAndGlyphs">IL (dB)</text>
</g>
</svg>
</body></html>
